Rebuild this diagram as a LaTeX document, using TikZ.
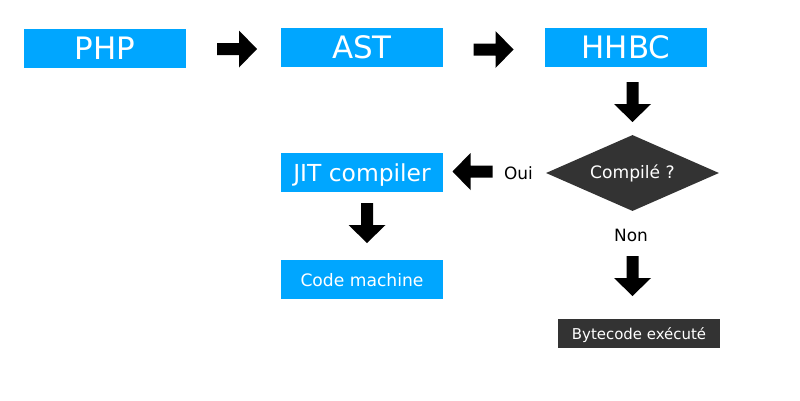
\documentclass[tikz,border=0pt]{standalone}
\usepackage{fontspec}
\setmainfont{DejaVu Sans}
\usetikzlibrary{shapes.geometric}
\definecolor{boxblue}{RGB}{0,166,255}
\definecolor{darkbox}{RGB}{51,51,51}
\tikzset{
  x=1bp, y=-1bp,
  bluebox/.style={rectangle, fill=boxblue, text=white, inner sep=0pt,
    minimum width=162bp, minimum height=39bp, text depth=0pt},
  darkrect/.style={rectangle, fill=darkbox, text=white, inner sep=0pt,
    minimum width=162bp, minimum height=29bp, text depth=0pt},
  bigtxt/.style={font=\fontsize{31}{31}\selectfont},
  midtxt/.style={font=\fontsize{23.5}{24}\selectfont},
  smalltxt/.style={font=\fontsize{17.2}{18}\selectfont},
  tinytxt/.style={font=\fontsize{15}{16}\selectfont},
  labeltxt/.style={text=black, inner sep=0pt, text depth=0pt, font=\fontsize{17}{18}\selectfont},
  blockarrow/.pic={
    \fill[black] (-20,-6) -- (2,-6) -- (2,-18.5) -- (20,0) -- (2,18.5) -- (2,6) -- (-20,6) -- cycle;
  }
}
\begin{document}
\begin{tikzpicture}
\useasboundingbox (0,0) rectangle (800,400);
% boxes
\node[bluebox, bigtxt] (php) at (105,48.5) {PHP};
\node[bluebox, bigtxt] (ast) at (362,47.5) {AST};
\node[bluebox, bigtxt] (hhbc) at (626,47.5) {HHBC};
\node[diamond, fill=darkbox, text=white, inner sep=0pt, aspect=2.28,
      minimum width=173bp, minimum height=76bp, smalltxt] (comp) at (632.5,173) {Compilé ?};
\node[bluebox, midtxt] (jit) at (362,172.5) {JIT compiler};
\node[bluebox, smalltxt] (code) at (362,279.5) {Code machine};
\node[darkrect, tinytxt] (byte) at (639,333.5) {Bytecode exécuté};
\node[labeltxt] (oui) at (518.5,173) {Oui};
\node[labeltxt] (non) at (631,235) {Non};
% block arrows
\pic at (237,49) {blockarrow};
\pic at (493.5,49.5) {blockarrow};
\pic[rotate=-90] at (632.5,102) {blockarrow};
\pic[rotate=180] at (472.5,171.5) {blockarrow};
\pic[rotate=-90] at (367,223) {blockarrow};
\pic[rotate=-90] at (632.5,276) {blockarrow};
\end{tikzpicture}
\end{document}
